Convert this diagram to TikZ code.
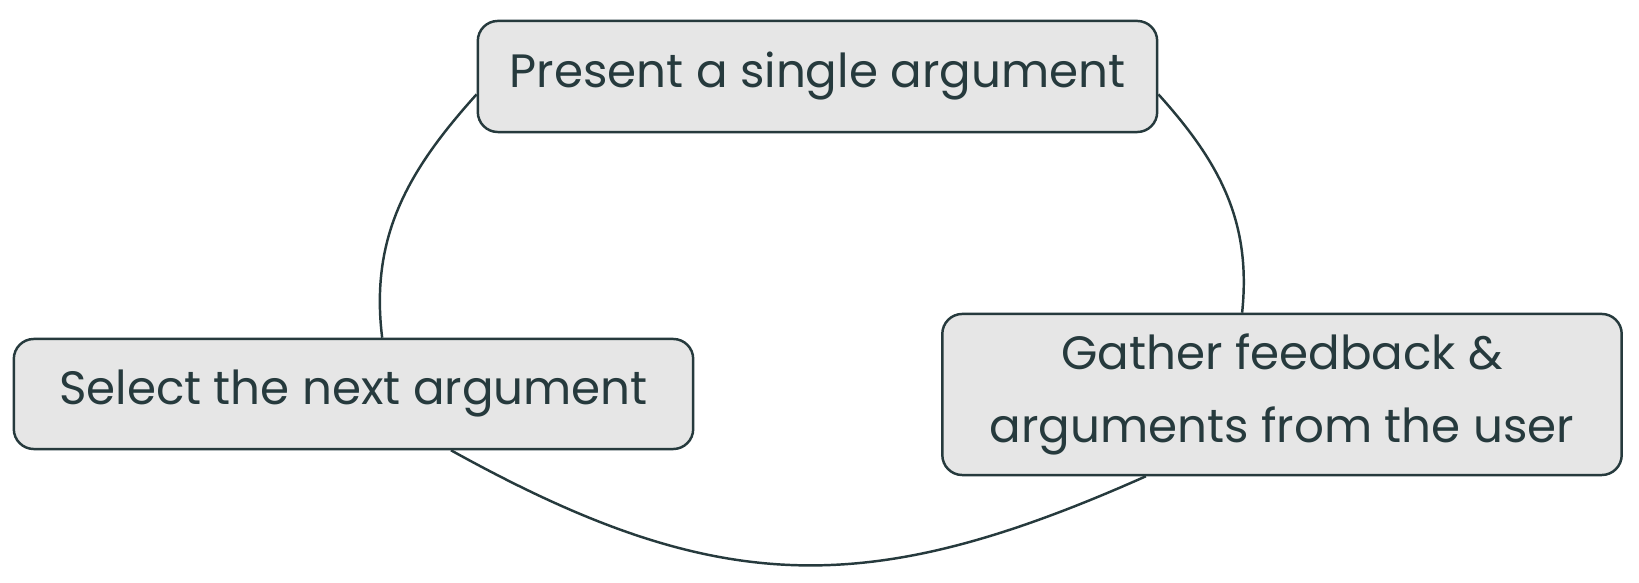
\documentclass[tikz,border=0pt]{standalone}
\usepackage{fontspec}
\setmainfont{Poppins}
\definecolor{ink}{HTML}{263A3D}
\definecolor{boxfill}{HTML}{E6E6E6}
\begin{document}
\begin{tikzpicture}[color=ink,x=0.01cm,y=-0.01cm,
    stepbox/.style={draw=ink,fill=boxfill,line width=0.7pt,rounded corners=0.2cm,
        minimum width=6.79cm,align=center,font=\fontsize{13.3}{20.5}\selectfont,text=ink},
    loop/.style={line width=0.7pt}]
                \useasboundingbox (0,0) rectangle (1639,583);
                %\draw [color=gray,dash pattern=on 1pt off 1pt] (0,0) grid[step=100] (1639,583);
                \node[stepbox,minimum height=1.11cm] (present) at (817.5,76.5) {Present a single argument};
                \node[stepbox,minimum height=1.1cm] (select) at (353.5,394) {Select the next argument};
                \node[stepbox,minimum height=1.61cm] (gather) at (1282,394.5) {Gather feedback \&\\arguments from the user};
                \draw[loop] (present.183.8) to[out=228,in=97,looseness=1.0] (select.63.4);
                \draw[loop] (present.-3.8) to[out=-48,in=84,looseness=1.0] (gather.116.4);
                \draw[loop] (select.-30.5) to[out=-29,in=204,looseness=1.12] (gather.-149.6);
            \end{tikzpicture}
\end{document}
